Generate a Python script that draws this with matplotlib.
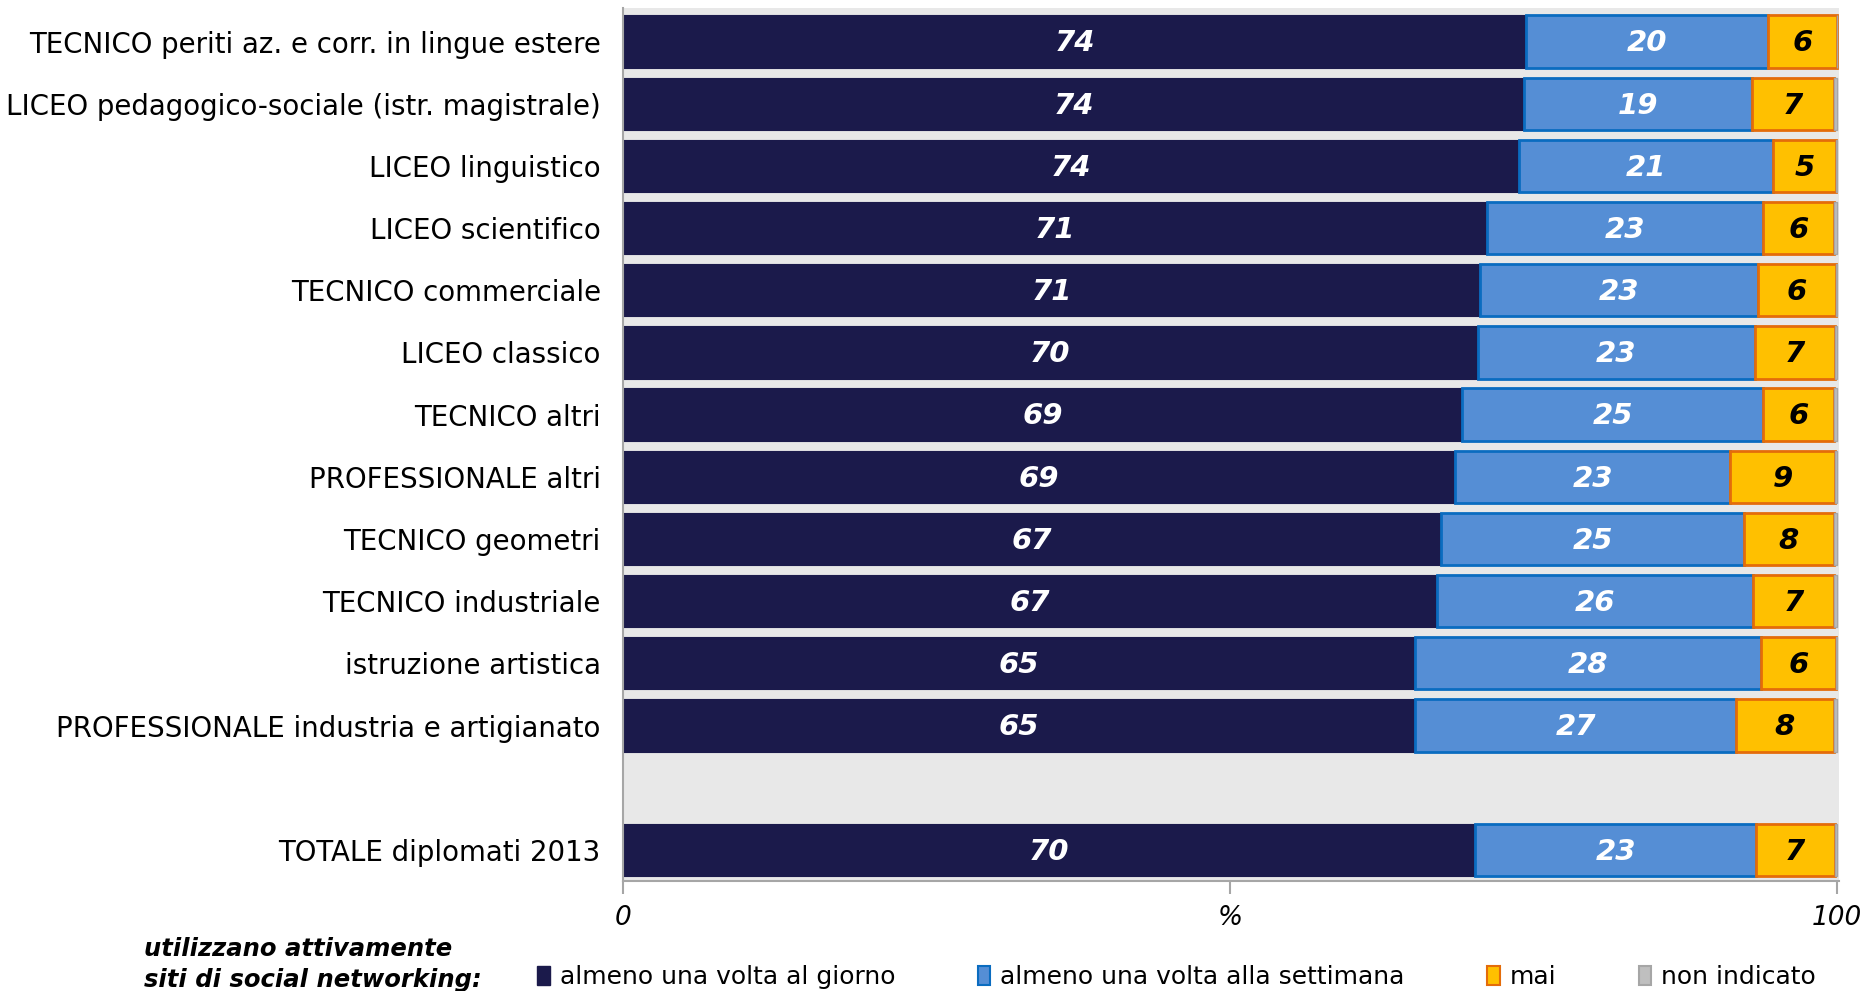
import numpy as np
import matplotlib
matplotlib.use("Agg")
import matplotlib.pyplot as plt
from matplotlib.patches import Patch

categories = [
    "TECNICO periti az. e corr. in lingue estere",
    "LICEO pedagogico-sociale (istr. magistrale)",
    "LICEO linguistico",
    "LICEO scientifico",
    "TECNICO commerciale",
    "LICEO classico",
    "TECNICO altri",
    "PROFESSIONALE altri",
    "TECNICO geometri",
    "TECNICO industriale",
    "istruzione artistica",
    "PROFESSIONALE industria e artigianato",
    "TOTALE diplomati 2013",
]
# row positions: gap before the total
positions = [0, 1, 2, 3, 4, 5, 6, 7, 8, 9, 10, 11, 13]

giorno = [74.4, 74.2, 73.8, 71.2, 70.6, 70.4, 69.1, 68.5, 67.4, 67.0, 65.2, 65.2, 70.2]
settimana = [19.9, 18.8, 20.9, 22.7, 22.9, 22.8, 24.8, 22.7, 24.9, 26.1, 28.5, 26.5, 23.1]
mai = [5.7, 6.7, 5.2, 5.8, 6.4, 6.6, 5.8, 8.6, 7.4, 6.6, 6.2, 8.0, 6.5]
non_ind = [0.0, 0.3, 0.1, 0.3, 0.1, 0.2, 0.3, 0.2, 0.3, 0.3, 0.1, 0.3, 0.2]

lab_giorno = [74, 74, 74, 71, 71, 70, 69, 69, 67, 67, 65, 65, 70]
lab_sett = [20, 19, 21, 23, 23, 23, 25, 23, 25, 26, 28, 27, 23]
lab_mai = [6, 7, 5, 6, 6, 7, 6, 9, 8, 7, 6, 8, 7]

legend_labels = ["almeno una volta al giorno", "almeno una volta alla settimana",
                 "mai", "non indicato"]

c_dark = "#1B1A4B"
c_blue = "#558ED5"
c_blue_e = "#0A6CC0"
c_or = "#FFC000"
c_or_e = "#E46C0A"
c_grey = "#BFBFBF"
c_grey_e = "#A6A6A6"

fig = plt.figure(figsize=(18.67, 9.91), dpi=100)
ax = fig.add_axes([0.3337, 0.111, 0.6513, 0.881])
ax.set_facecolor("#E8E8E8")

h = 0.84
y = np.array(positions)
g = np.array(giorno)
s = np.array(settimana)
m = np.array(mai)
n = np.array(non_ind)

ax.barh(y, g, height=h, color=c_dark, edgecolor=c_dark, linewidth=0.8)
ax.barh(y, s, left=g, height=h, color=c_blue, edgecolor=c_blue_e, linewidth=2.0)
ax.barh(y, m, left=g + s, height=h, color=c_or, edgecolor=c_or_e, linewidth=2.0)
ax.barh(y, n, left=g + s + m, height=h, color=c_grey, edgecolor=c_grey_e, linewidth=1.0)

vfont = dict(fontsize=21, fontweight="bold", fontstyle="italic", va="center", ha="center")
for i, yy in enumerate(y):
    ax.text(g[i] / 2, yy + 0.03, str(lab_giorno[i]), color="white", **vfont)
    ax.text(g[i] + s[i] / 2, yy + 0.03, str(lab_sett[i]), color="white", **vfont)
    ax.text(g[i] + s[i] + m[i] / 2, yy + 0.03, str(lab_mai[i]), color="black", **vfont)

ax.set_xlim(0, 100.15)
ax.set_ylim(13.5, -0.54)
ax.set_yticks(positions)
ax.set_yticklabels(categories, fontsize=19.9)
ax.tick_params(axis="y", length=0, pad=16)
ax.set_xticks([0, 50, 100])
ax.set_xticklabels(["0", "%", "100"], fontsize=19, fontstyle="italic")
ax.tick_params(axis="x", length=9, color="#A6A6A6", width=1.5, pad=8)

for sp in ["top", "right"]:
    ax.spines[sp].set_visible(False)
for sp in ["left", "bottom"]:
    ax.spines[sp].set_color("#A6A6A6")
    ax.spines[sp].set_linewidth(1.5)

fig.text(0.077, 0.027, "utilizzano attivamente\nsiti di social networking:",
         fontsize=17.5, fontweight="bold", fontstyle="italic", va="center", ha="left",
         linespacing=1.35)

handles = [
    Patch(facecolor=c_dark, edgecolor=c_dark),
    Patch(facecolor=c_blue, edgecolor=c_blue_e, linewidth=1.5),
    Patch(facecolor=c_or, edgecolor=c_or_e, linewidth=1.5),
    Patch(facecolor=c_grey, edgecolor=c_grey_e, linewidth=1.5),
]
fig.legend(handles, legend_labels, loc="center left", bbox_to_anchor=(0.2825, 0.014),
           ncol=4, frameon=False, fontsize=18, handlelength=0.5, handleheight=0.85,
           handletextpad=0.4, columnspacing=3.3, borderaxespad=0)

fig.savefig("out.png", dpi=100)
